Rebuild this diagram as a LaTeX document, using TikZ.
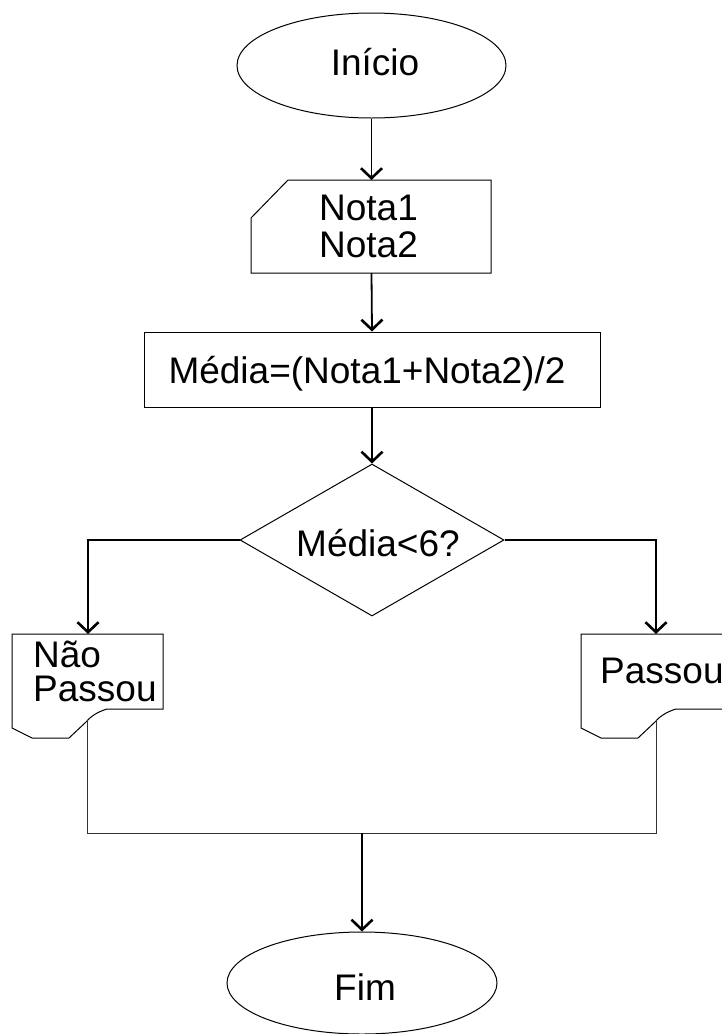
\documentclass[tikz,border=0pt]{standalone}
\usepackage{fontspec}
\setmainfont{Liberation Sans}
\usetikzlibrary{shapes.geometric,arrows.meta}
\begin{document}
\begin{tikzpicture}[x=1pt,y=-1pt,
  shp/.style={draw=black,line width=1pt},
  txt/.style={font=\fontsize{37}{37}\selectfont,inner sep=0pt,anchor=base},
  arr/.style={line width=1.8pt,-{Straight Barb[length=10pt,width=21pt,line width=2.6pt]}},
  ln/.style={line width=1pt,draw=black!80}]
\useasboundingbox (0,0) rectangle (722,1034);
\clip (0,0) rectangle (722,1034);
% start
\node[shp,ellipse,minimum width=269,minimum height=105,inner sep=0pt] (ini) at (371.5,65.5) {};
\node[txt] (tini) at (375,75) {Início};
% manual input
\node[minimum width=240,minimum height=93,inner sep=0pt] (inp) at (371,226.5) {};
\draw[shp] (288,180) -- (491,180) -- (491,273) -- (251,273) -- (251,218) -- cycle;
\node[txt] (tn1) at (368.5,220) {Nota1};
\node[txt] (tn2) at (368.5,257) {Nota2};
% process
\node[shp,minimum width=456,minimum height=75,inner sep=0pt] (proc) at (372,369.5) {};
\node[txt] (tproc) at (367,383) {Média=(Nota1+Nota2)/2};
% decision
\node[shp,diamond,minimum width=264,minimum height=152,inner sep=0pt] (dec) at (372,540) {};
\node[txt] (tdec) at (378,556) {Média<6?};
% left document
\node[minimum width=151,minimum height=104,inner sep=0pt] (docl) at (87.5,686) {};
\draw[shp] (12,634) -- (163,634) -- (163,709) -- (107,709)
  .. controls (97,712) and (90,717) .. (86,722) -- (69,738) -- (32,738) -- (12,728) -- cycle;
\coordinate (docls) at (87,720);
\node[txt,anchor=base west] (tdl1) at (33,667) {Não};
\node[txt,anchor=base west] (tdl2) at (33,701) {Passou};
% right document
\node[minimum width=151,minimum height=104,inner sep=0pt] (docr) at (656,686) {};
\draw[shp] (581,634) -- (760,634) -- (760,709) -- (676,709)
  .. controls (666,712) and (659,717) .. (655,722) -- (638,738) -- (601,738) -- (581,728) -- cycle;
\coordinate (docrs) at (656,720);
\node[txt,anchor=base west] (tdr) at (600,683) {Passou};
% end
\node[shp,ellipse,minimum width=270,minimum height=102,inner sep=0pt] (fim) at (362,983) {};
\node[txt] (tfim) at (365,1000) {Fim};
% connectors
\draw[arr] (ini.south) -- (371.5,180);
\draw[arr] (371.5,273) -- (proc.north);
\draw[arr] (proc.south) -- (dec.north);
\draw[arr] (dec.west) -- (88,540) -- (88,634);
\draw[arr] (dec.east) -- (656,540) -- (656,634);
\coordinate (merge) at (362,833);
\draw[ln] (docls) -- (87,833) -- (656,833) -- (docrs);
\draw[arr] (merge) -- (fim.north);
\end{tikzpicture}
\end{document}
